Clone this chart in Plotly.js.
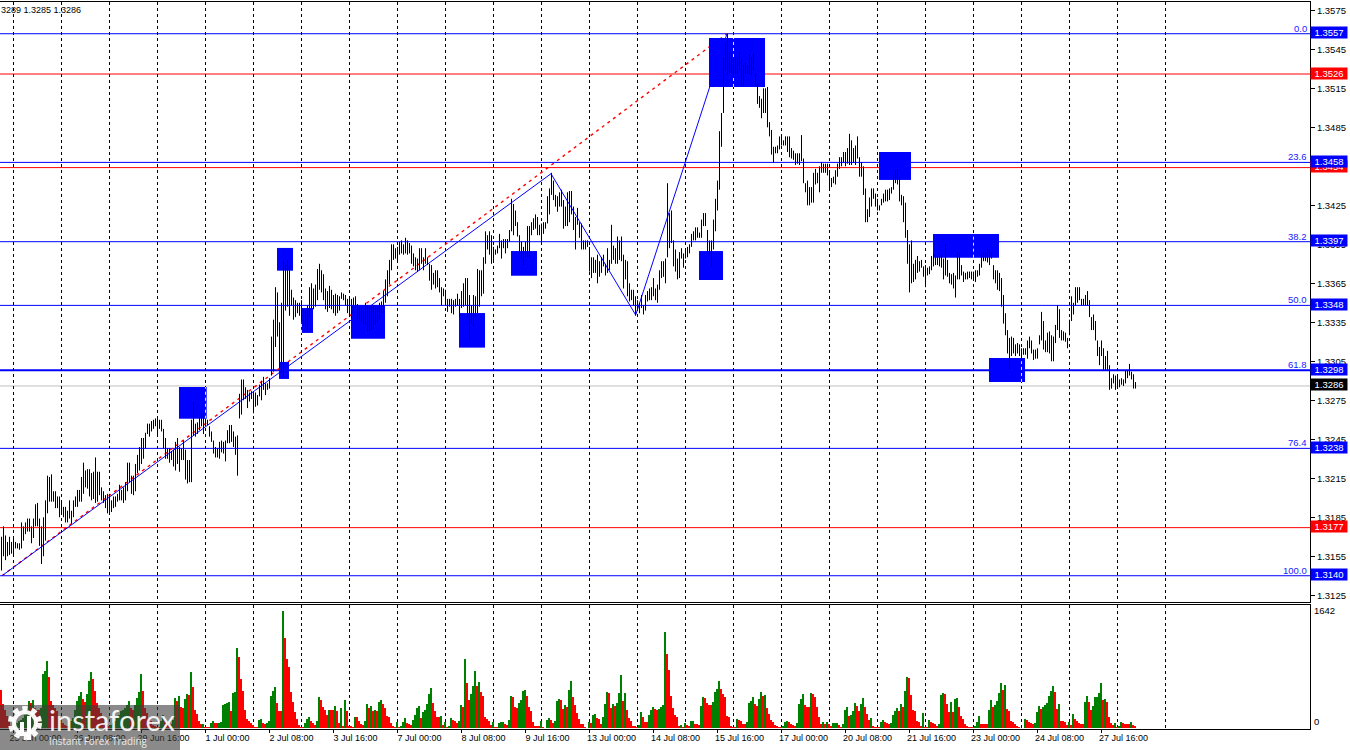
<!DOCTYPE html>
<html><head><meta charset="utf-8">
<script src="https://cdn.plot.ly/plotly-3.0.1.min.js"></script>
<style>html,body{margin:0;padding:0;background:#fff;overflow:hidden}#c{width:1350px;height:750px}</style>
</head><body><div id="c"></div>
<script>
// Hourly bars, in pips above 1.3000
const highPips=[
170,178,171,166,170,166,170,166,165,165,181,178,181,184,184,178,184,195,196,184,
178,185,198,217,216,218,205,205,201,201,198,193,193,190,198,190,198,201,206,206,
216,227,221,222,222,219,220,231,220,220,208,205,202,203,203,198,201,201,203,210,
206,208,212,227,227,217,217,226,233,239,246,246,250,257,257,259,260,261,262,260,
260,253,246,238,238,236,237,243,246,239,238,244,237,229,229,260,274,257,258,262,
265,265,261,260,255,251,244,239,238,243,244,243,244,252,256,256,251,247,248,280,
291,291,285,283,281,282,280,281,279,287,290,293,288,288,292,324,337,362,358,335,
350,382,379,383,378,360,354,352,350,350,352,345,344,348,362,365,361,364,376,380,
375,372,361,359,363,360,356,357,356,355,358,357,356,353,353,353,354,355,349,347,
346,344,350,348,347,348,348,347,347,350,351,359,368,375,383,395,395,392,393,397,
398,395,400,398,396,394,388,385,384,392,392,385,392,385,380,379,373,375,375,369,
362,361,360,353,353,353,352,353,357,353,359,365,369,369,356,348,356,355,376,375,
375,385,405,402,405,402,393,391,394,403,398,399,399,399,406,430,426,421,412,402,
397,393,397,409,409,412,415,418,416,410,411,412,412,432,438,450,444,433,432,435,
437,429,424,435,436,436,424,416,423,412,411,398,398,398,393,385,385,383,387,382,
385,387,380,392,383,410,394,392,401,398,401,387,383,382,365,360,360,355,352,350,
356,348,356,359,361,362,369,361,364,375,382,382,384,442,419,421,398,391,384,389,
392,388,392,393,395,403,405,408,408,404,414,419,419,406,398,398,414,430,444,482,
496,539,550,557,543,542,538,539,539,543,538,533,535,533,541,539,542,526,519,509,
507,515,515,516,489,483,470,470,471,478,479,475,478,478,478,469,467,465,465,465,
479,461,442,444,439,439,450,453,450,455,458,457,457,457,450,446,447,452,457,462,
462,466,466,469,480,475,469,471,478,462,458,455,438,422,431,438,438,434,430,425,
430,434,437,437,438,439,448,452,453,447,433,432,427,406,395,398,380,383,386,382,
383,378,379,377,378,386,388,387,386,386,387,384,395,383,373,372,373,371,389,388,
379,374,373,374,374,374,374,375,375,380,388,389,389,392,391,389,379,375,375,373,
369,356,342,329,323,324,323,318,319,318,315,315,315,321,324,321,314,314,315,325,
343,336,321,327,328,325,324,333,348,345,329,328,327,323,337,355,350,362,362,362,
353,353,356,359,352,339,341,336,321,316,321,315,309,313,302,292,295,294,295,291,
292,291,298,298,303,297,295,289];
const lowPips=[
144,155,152,155,156,157,155,161,161,160,161,167,172,174,174,165,169,178,178,163,
149,155,167,188,197,197,197,192,192,185,189,185,181,181,184,180,185,193,193,197,
197,203,208,207,201,198,199,196,197,202,198,196,192,188,188,189,192,193,197,198,
198,196,198,205,212,203,202,205,219,221,226,230,238,249,247,251,253,255,247,253,
251,238,230,230,227,229,224,221,226,220,229,229,214,211,212,212,248,247,249,252,
255,249,255,256,247,243,234,231,231,230,235,234,228,242,242,243,239,233,217,261,
264,275,276,269,274,276,265,270,271,278,275,283,279,283,284,294,297,316,324,300,
296,293,344,347,340,348,337,339,342,340,336,332,331,329,339,345,345,347,352,360,
358,352,345,343,346,345,342,340,342,344,353,352,348,342,339,338,342,346,337,337,
335,333,333,328,328,329,330,333,335,337,342,342,350,355,364,375,383,384,381,387,
388,387,388,387,388,380,378,375,374,375,380,375,380,379,367,360,364,361,362,358,
348,355,348,343,347,342,341,347,348,339,346,347,348,339,321,334,332,339,342,347,
355,357,380,391,387,380,382,387,388,392,384,392,388,392,397,405,402,409,401,389,
384,379,385,385,385,402,406,407,402,402,396,403,407,411,418,433,429,424,420,424,
424,407,409,409,412,418,406,391,410,400,391,391,391,393,374,369,373,373,365,370,
373,378,371,373,375,380,383,380,380,383,382,361,368,355,351,352,348,340,344,342,
346,341,344,351,352,352,355,352,350,360,369,370,365,385,392,396,378,374,368,369,
384,377,384,385,388,393,398,398,400,400,400,409,409,389,387,378,391,405,421,437,
470,496,528,525,526,526,525,526,526,529,517,517,526,526,526,525,529,517,503,500,
492,496,496,485,478,464,458,465,465,468,471,471,471,466,462,461,460,456,457,456,
459,442,435,425,425,427,427,441,442,435,450,450,450,448,437,439,442,441,447,453,
455,458,455,457,456,456,458,456,461,447,447,433,412,412,416,424,430,424,421,421,
425,427,428,428,429,434,437,442,441,428,425,412,400,380,358,365,366,368,373,374,
377,370,362,371,372,375,378,379,379,378,377,368,371,370,365,364,361,354,368,368,
371,366,368,368,369,368,369,366,370,371,377,382,382,381,379,384,368,365,360,359,
347,334,325,311,299,309,311,309,311,309,305,310,310,307,315,311,306,307,307,318,
321,314,312,312,311,305,305,319,329,323,321,321,320,315,325,336,341,348,350,352,
348,348,348,348,339,329,329,321,309,302,309,298,298,298,283,284,288,283,286,285,
287,286,288,292,294,291,284,284];
const volumes=[
512,320,245,156,89,45,22,36,67,89,111,134,178,245,356,334,369,267,245,240,
267,721,765,899,685,365,312,267,222,156,111,67,36,22,45,89,134,245,356,423,
481,392,347,458,632,748,659,498,334,267,200,134,67,36,22,36,67,89,134,178,
222,245,267,312,365,267,245,312,400,476,721,498,267,200,134,89,45,22,13,12,
89,169,111,67,60,55,111,400,365,423,280,267,392,458,445,748,552,245,187,98,
53,58,18,17,9,67,93,67,65,70,80,312,320,329,347,231,467,480,1068,952,
659,498,245,125,98,67,36,9,8,111,125,67,53,67,89,423,498,552,338,231,
230,1566,1201,925,819,481,347,214,125,45,18,9,67,125,151,98,67,45,98,418,
378,280,245,178,245,244,243,289,222,67,263,27,374,227,27,26,18,147,146,93,
53,40,93,320,267,294,227,240,227,347,374,320,267,160,147,67,27,9,80,18,
27,80,134,67,53,40,107,174,267,294,134,214,240,320,454,534,334,227,142,141,
160,40,80,13,27,129,107,98,71,93,307,276,921,596,374,454,561,761,561,614,
481,427,147,120,93,40,80,9,8,62,80,81,53,40,107,427,414,280,267,334,
374,494,507,427,280,227,80,27,26,25,93,13,4,107,134,107,67,93,360,387,
374,254,307,280,507,627,414,307,200,120,53,52,9,3,80,67,174,187,134,120,
53,147,320,481,467,267,320,294,334,467,708,360,467,240,134,93,27,26,13,40,
214,147,80,79,174,240,280,254,240,254,276,303,1282,988,774,427,267,174,147,27,
40,18,62,40,27,93,94,53,52,40,294,414,400,338,307,306,347,481,521,627,
521,454,414,160,147,27,13,9,120,107,93,53,52,80,334,360,414,320,294,383,
476,427,441,267,187,107,80,40,27,13,12,22,80,93,80,53,40,27,67,320,
387,454,307,280,279,467,454,418,280,147,53,80,53,80,53,27,67,68,69,40,
13,53,240,280,160,174,227,334,294,227,320,400,280,187,107,129,27,13,12,11,
80,107,80,67,53,67,174,227,267,227,320,280,494,681,667,441,240,227,93,80,
27,200,9,8,107,80,67,53,27,53,441,467,454,320,214,347,214,387,400,280,
160,120,53,27,13,12,11,27,80,160,56,55,54,53,240,374,280,307,360,467,
601,507,574,249,227,93,80,53,27,13,5,4,120,107,80,67,53,67,214,294,
254,280,307,334,427,494,561,481,254,320,93,92,80,36,80,40,187,120,93,67,
53,52,347,427,347,240,294,414,416,467,601,374,387,347,147,67,40,67,13,27,
80,67,53,52,51,80,40,31];

const dateLabels=['25 Jun 00:00','26 Jun 08:00','29 Jun 16:00','1 Jul 00:00','2 Jul 08:00','3 Jul 16:00','7 Jul 00:00','8 Jul 08:00','9 Jul 16:00','13 Jul 00:00','14 Jul 08:00','15 Jul 16:00','17 Jul 00:00','20 Jul 08:00','21 Jul 16:00','23 Jul 00:00','24 Jul 08:00','27 Jul 16:00'];
const priceTicks=[1.3575,1.3545,1.3515,1.3485,1.3455,1.3425,1.3395,1.3365,1.3335,1.3305,1.3275,1.3245,1.3215,1.3185,1.3155,1.3125];
const blueLevels=[1.3557,1.3458,1.3397,1.3348,1.3238,1.3140];
const fibNames=['0.0','23.6','38.2','50.0','76.4','100.0'];
const boldLevel=1.3298, boldFib='61.8';
const redLevels=[1.3526,1.3454,1.3177];
const bidLevel=1.3286;
// Signal boxes: bar range and price range
const boxFrom=[88.75,137.75,138.75,149.75,174.75,228.75,254.75,348.75,353.75,438.75,465.75,493.75];
const boxTo=[102.6,145.75,143.75,155.75,191.75,241.75,267.75,360.75,381.75,454.75,498.75,511.75];
const boxHigh=[1.32852,1.33922,1.33045,1.3346,1.33483,1.33421,1.33898,1.33898,1.35537,1.3466,1.3403,1.33075];
const boxLow=[1.32608,1.33747,1.32914,1.33268,1.33224,1.33155,1.33708,1.33675,1.3516,1.34445,1.33847,1.32891];
const yellowBox=[0,3,8,10,11], yellowBar=[102,150,366,486,510];
// Wave line turning points
const waveBars=[0.25,274.75,317.1,362.75];
const wavePrices=[1.3140,1.34493,1.33406,1.3557];

const barIdx=highPips.map((_,i)=>i);
const segX=[],segY=[];
barIdx.forEach(i=>{segX.push(i,i,null);segY.push(1.3+lowPips[i]/10000,1.3+highPips[i]/10000,null);});
const volColors=volumes.map((v,i)=>(i>0&&v>volumes[i-1])?'#008000':'#ff0000');

const gridBars=[];for(let i=6;i<=582;i+=24)gridBars.push(i);
const labelBars=dateLabels.map((_,k)=>6+32*k);

const FONT='"Liberation Sans",Arial,sans-serif';
const shapes=[];
const between=(o)=>Object.assign({xref:'x',yref:'y',layer:'between'},o);
// wave + fibo base
shapes.push(between({type:'line',x0:waveBars[0],x1:waveBars[3],y0:wavePrices[0],y1:wavePrices[3],line:{color:'#ff0000',width:1.4,dash:'3px,4px'}}));
for(let k=0;k<3;k++)shapes.push(between({type:'line',x0:waveBars[k],x1:waveBars[k+1],y0:wavePrices[k],y1:wavePrices[k+1],line:{color:'#0000ff',width:1}}));
// boxes
boxFrom.forEach((b,k)=>shapes.push(between({type:'rect',x0:b,x1:boxTo[k],y0:boxLow[k],y1:boxHigh[k],fillcolor:'#0000ff',line:{width:0}})));
yellowBox.forEach((k,n)=>shapes.push(between({type:'line',x0:yellowBar[n],x1:yellowBar[n],y0:boxLow[k],y1:boxHigh[k],line:{color:'#ffff00',width:1,dash:'3px,3px'}})));
// horizontal levels
const hline=(y,c,w)=>between({type:'line',xref:'paper',x0:0,x1:1310/1350,y0:y,y1:y,line:{color:c,width:w}});
shapes.push(hline(bidLevel,'#c0c0c0',1));
redLevels.forEach(y=>shapes.push(hline(y,'#ff0000',1)));
blueLevels.forEach(y=>shapes.push(hline(y,'#0000ff',1)));
shapes.push(hline(boldLevel,'#0000ff',2));

// watermark (paper coordinates)
const px=v=>v/1350, py=v=>(750-v)/750;
const wm=o=>Object.assign({xref:'paper',yref:'paper',layer:'above'},o);
shapes.push(wm({type:'rect',x0:0,x1:px(180),y0:py(705),y1:py(750),fillcolor:'rgba(60,60,60,0.6)',line:{width:0}}));
shapes.push(wm({type:'circle',x0:px(11),x1:px(39),y0:py(737),y1:py(709),line:{color:'rgba(255,255,255,0.95)',width:6,dash:'5px,4px'}}));
shapes.push(wm({type:'circle',x0:px(14),x1:px(36),y0:py(734),y1:py(712),line:{color:'rgba(255,255,255,0.95)',width:4}}));
shapes.push(wm({type:'rect',x0:px(20),x1:px(24),y0:py(736),y1:py(722),fillcolor:'#fff',line:{width:0}}));
shapes.push(wm({type:'rect',x0:px(27),x1:px(31),y0:py(740),y1:py(716),fillcolor:'#fff',line:{width:0}}));

const ann=[];
// fib labels
const fibAll=blueLevels.map((y,i)=>({y,t:fibNames[i]})).concat([{y:boldLevel,t:boldFib}]);
fibAll.forEach(f=>ann.push({xref:'paper',yref:'y',x:1308/1350,y:f.y,text:f.t,showarrow:false,xanchor:'right',yanchor:'bottom',yshift:-1,font:{family:FONT,size:9.5,color:'#2020ff'},borderpad:0}));
// price tags
const tag=(y,c)=>ann.push({xref:'paper',yref:'y',x:1329/1350,y:y,yshift:1,text:y.toFixed(4),showarrow:false,xanchor:'center',yanchor:'middle',width:36,height:11,bgcolor:c,borderpad:0,font:{family:FONT,size:9.5,color:'#fff'}});
redLevels.forEach(y=>tag(y,'#ff0000'));
blueLevels.forEach(y=>tag(y,'#0000ff'));
tag(boldLevel,'#0000ff');
tag(bidLevel,'#000000');
// header
ann.push({xref:'paper',yref:'paper',x:0,y:py(10),text:'3289 1.3285 1.3286',showarrow:false,xanchor:'left',yanchor:'middle',font:{family:FONT,size:9,color:'#000'},borderpad:0});
// watermark text
ann.push({xref:'paper',yref:'paper',x:px(48),y:py(719),text:'instaforex',showarrow:false,xanchor:'left',yanchor:'middle',font:{family:'Lato,Roboto,sans-serif',size:29,color:'rgba(255,255,255,0.92)'},borderpad:0});
ann.push({xref:'paper',yref:'paper',x:px(48),y:py(741),text:'Instant Forex Trading',showarrow:false,xanchor:'left',yanchor:'middle',font:{family:'"Open Sans",sans-serif',size:9.9,color:'rgba(255,255,255,0.85)'},borderpad:0});

const xCommon={range:[-0.75,654.25],domain:[0,1310/1350],showline:true,linecolor:'#000',linewidth:1,mirror:true,zeroline:false,fixedrange:true};
const dash='3px,3px';
const layout={
  width:1350,height:750,margin:{l:0,r:0,t:0,b:0,pad:0},autosize:false,
  paper_bgcolor:'#fff',plot_bgcolor:'#fff',showlegend:false,bargap:0,hovermode:false,
  font:{family:FONT,size:9.5,color:'#000'},
  xaxis:Object.assign({},xCommon,{anchor:'y',tickmode:'array',tickvals:gridBars,showticklabels:false,ticks:'',showgrid:true,gridcolor:'#000',gridwidth:1,griddash:dash}),
  yaxis:{domain:[148/750,748/750],range:[1.31198,1.35814],side:'right',anchor:'x',tickmode:'array',tickvals:priceTicks,ticktext:priceTicks.map(v=>v.toFixed(4)),ticks:'outside',ticklen:4,tickcolor:'#000',showline:true,linecolor:'#000',showgrid:false,zeroline:false,fixedrange:true,tickfont:{family:FONT,size:9.5,color:'#000'}},
  xaxis2:Object.assign({},xCommon,{anchor:'y2',tickmode:'array',tickvals:labelBars,ticktext:dateLabels,ticks:'outside',ticklen:3,tickcolor:'#000',ticklabelshift:22,ticklabelstandoff:-3,showgrid:false,tickfont:{family:FONT,size:9,color:'#000'},minor:{tickmode:'array',tickvals:gridBars,showgrid:true,gridcolor:'#000',gridwidth:1,griddash:dash,ticks:''}}),
  yaxis2:{domain:[21/750,145/750],range:[-13,1642.5],side:'right',anchor:'x2',tickmode:'array',tickvals:[1562,80],ticktext:['1642','0'],ticks:'outside',ticklen:1,tickcolor:'#fff',showline:true,linecolor:'#000',showgrid:false,zeroline:false,fixedrange:true,tickfont:{family:FONT,size:9.5,color:'#000'}},
  shapes:shapes,annotations:ann
};
const traces=[
 {type:'bar',x:barIdx,y:volumes,xaxis:'x2',yaxis:'y2',width:1,offset:-0.75,marker:{color:volColors,line:{width:0}},hoverinfo:'skip'},
 {type:'scatter',mode:'lines',x:segX,y:segY,xaxis:'x',yaxis:'y',connectgaps:false,line:{color:'#000',width:1},hoverinfo:'skip'}
];
Plotly.newPlot('c',traces,layout,{displayModeBar:false,staticPlot:true});
</script></body></html>
